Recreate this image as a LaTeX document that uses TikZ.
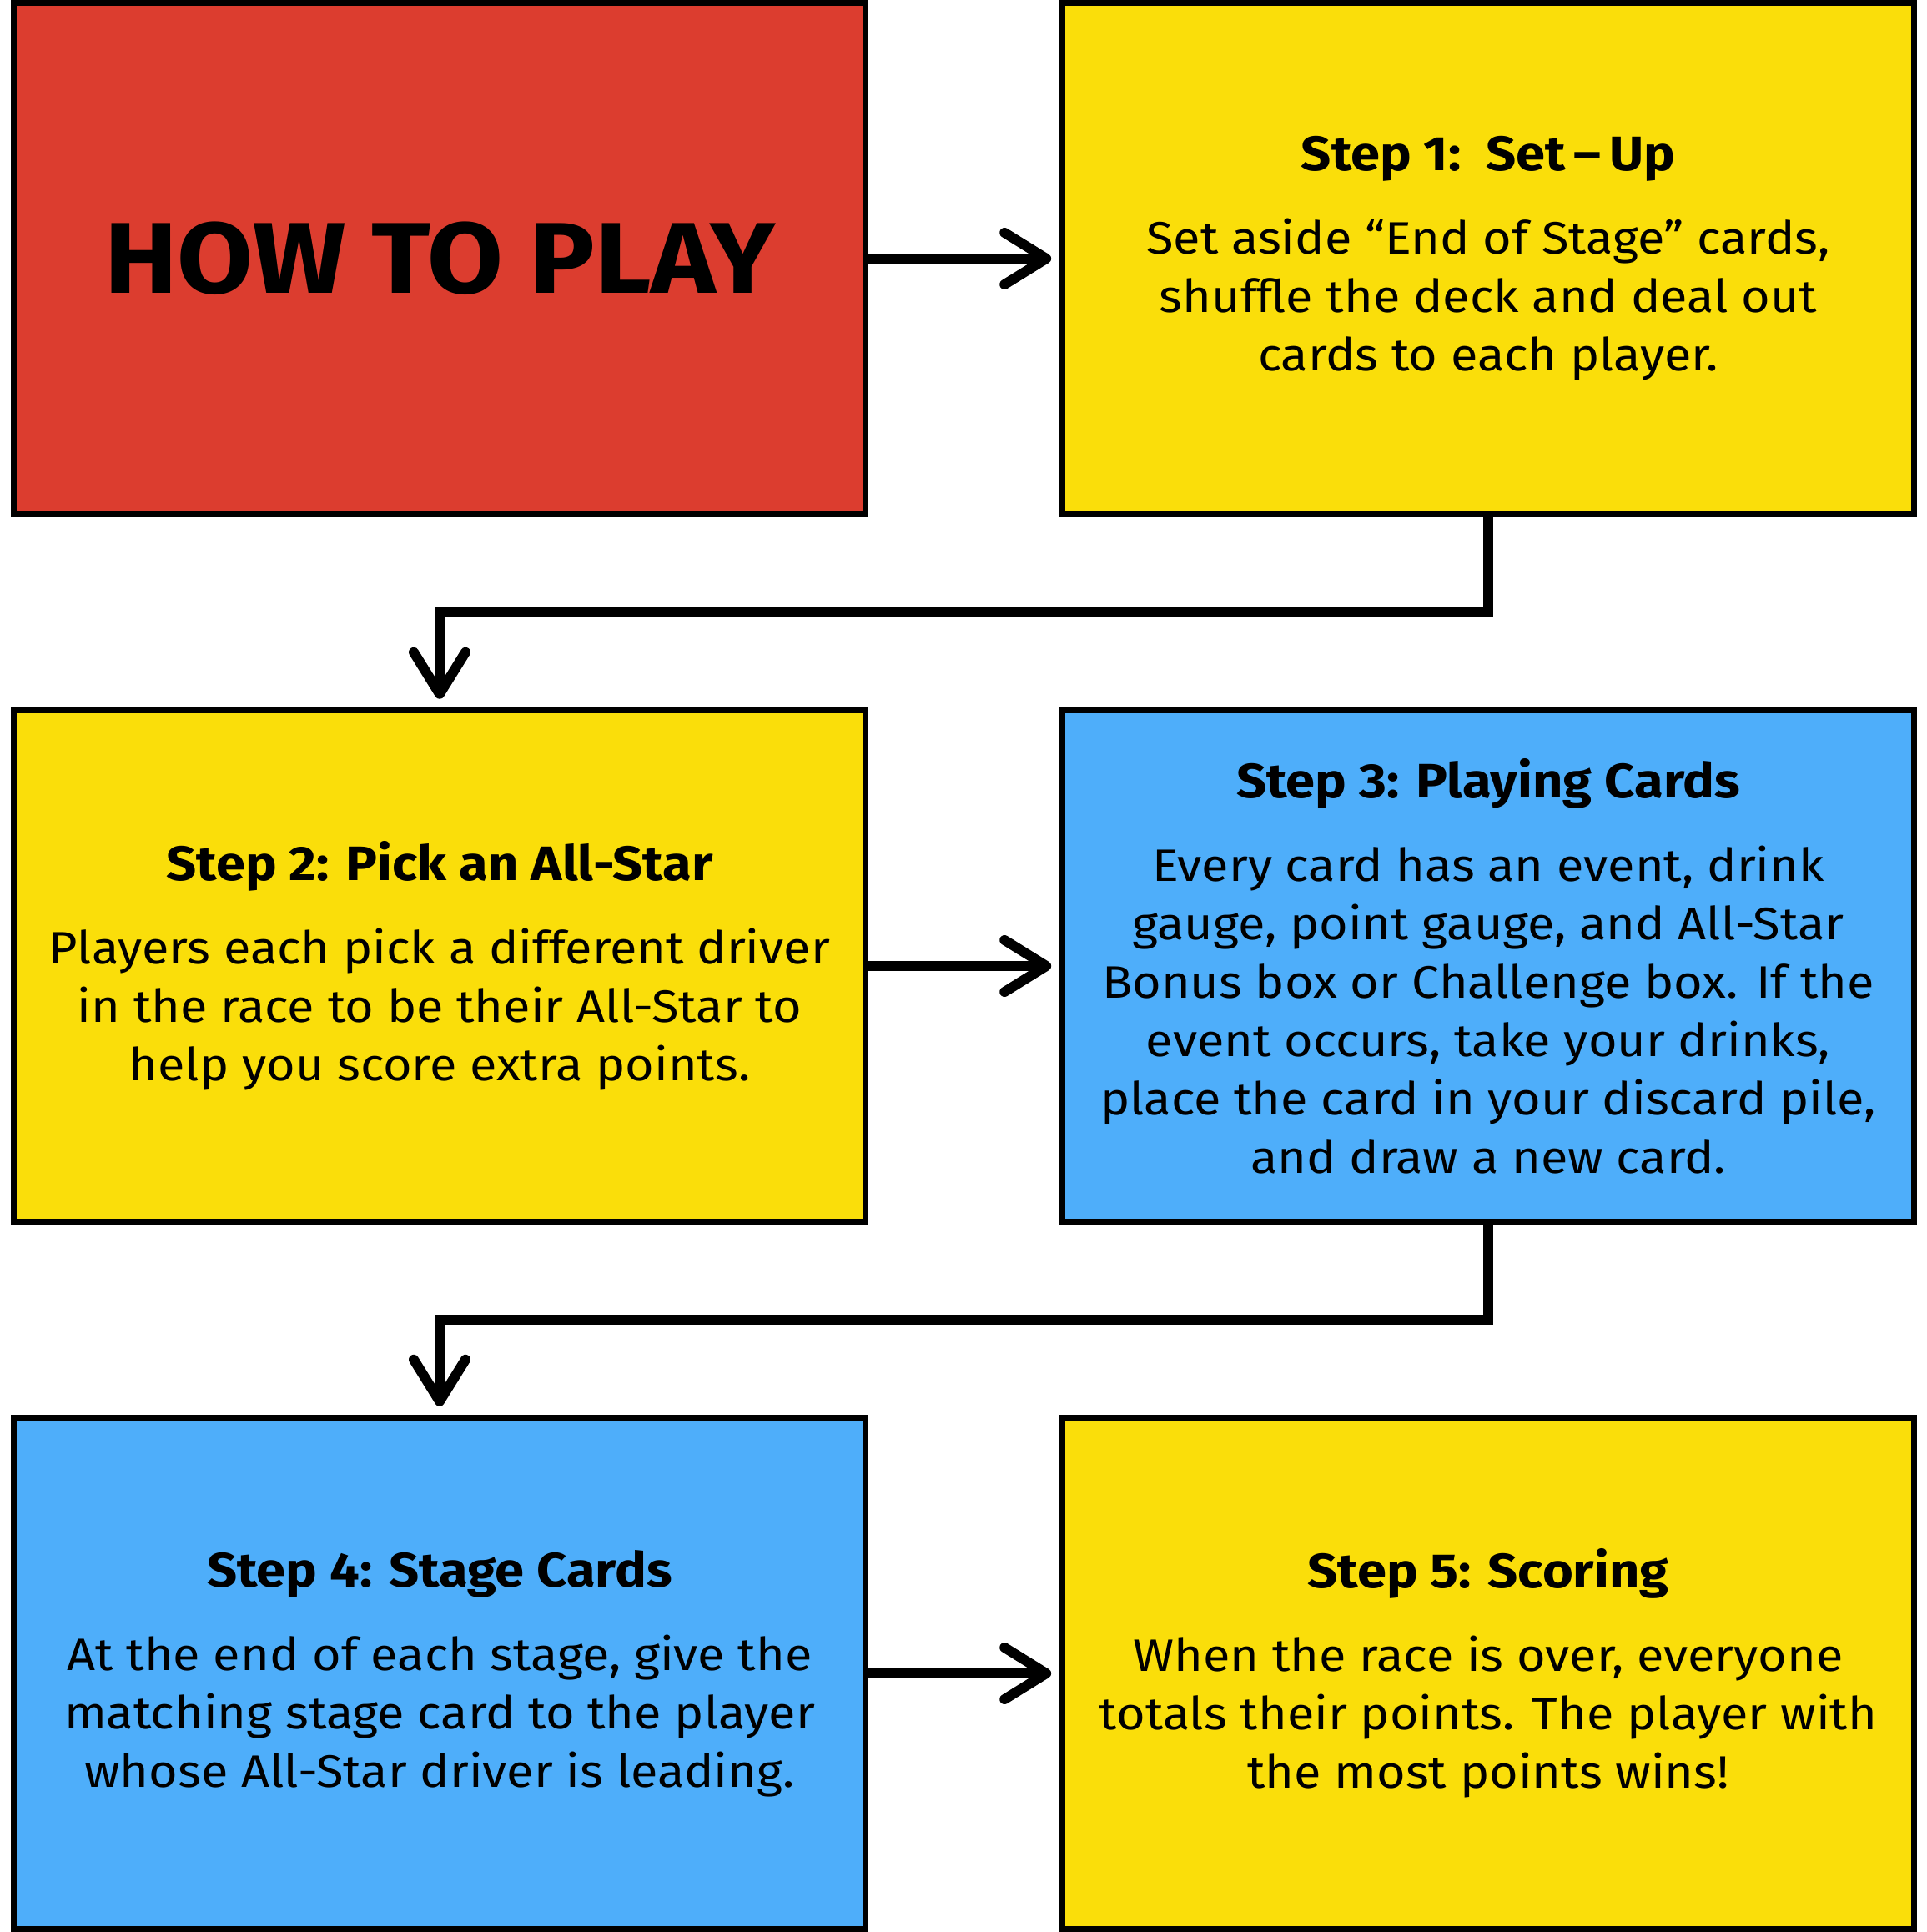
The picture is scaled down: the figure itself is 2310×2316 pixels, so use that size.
\documentclass[tikz,border=0pt]{standalone}
\usepackage{fontspec}
\setmainfont{Fira Sans}[FakeStretch=1.09]
\usetikzlibrary{arrows.meta}

\definecolor{cardred}{RGB}{220,61,47}
\definecolor{cardyellow}{RGB}{250,222,10}
\definecolor{cardblue}{RGB}{78,174,250}

\newcommand{\steptitle}[1]{{\fontsize{16.5}{19.9}\selectfont\bfseries #1}}

\begin{document}
\begin{tikzpicture}[x=0.01cm, y=-0.01cm,
  card/.style={draw=black, line width=2pt, minimum width=10.2cm, minimum height=6.13cm,
    inner sep=0pt, align=center, font=\fontsize{15.5}{19.9}\selectfont},
  flow/.style={line width=3.4pt, -{Straight Barb[length=0.5cm, width=0.62cm, round]},
    shorten >=0.1cm}]

\useasboundingbox (0,0) rectangle (2310,2316);

% Title card
\node[card, fill=cardred, font=\fontsize{34.3}{40}\selectfont\bfseries] (howto) at (527,310) {HOW TO PLAY};

% Step cards
\node[card, fill=cardyellow] (step1) at (1784,310)
  {\steptitle{Step 1:\ \ Set\,–\,Up}\\[8.5pt]
   Set aside “End of Stage” cards,\\ shuffle the deck and deal out\\ cards to each player.};
\node[card, fill=cardyellow] (step2) at (527,1158)
  {\steptitle{Step 2: Pick an All-Star}\\[8.5pt]
   Players each pick a different driver\\ in the race to be their All-Star to\\ help you score extra points.};
\node[card, fill=cardblue] (step3) at (1784,1158)
  {\steptitle{Step 3: Playing Cards}\\[8.5pt]
   Every card has an event, drink\\ gauge, point gauge, and All-Star\\ Bonus box or Challenge box. If the\\
   event occurs, take your drinks,\\ place the card in your discard pile,\\ and draw a new card.};
\node[card, fill=cardblue] (step4) at (527,2006)
  {\steptitle{Step 4: Stage Cards}\\[8.5pt]
   At the end of each stage, give the\\ matching stage card to the player\\ whose All-Star driver is leading.};
\node[card, fill=cardyellow] (step5) at (1784,2006)
  {\steptitle{Step 5: Scoring}\\[8.5pt]
   When the race is over, everyone\\ totals their points. The player with\\ the most points wins!};

% Arrows across
\draw[flow] (howto) -- (step1);
\draw[flow] (step2) -- (step3);
\draw[flow] (step4) -- (step5);

% Arrows back to the left column
\draw[flow] (step1.south) -- ++(0,114) -| (step2.north);
\draw[flow] (step3.south) -- ++(0,114) -| (step4.north);

\end{tikzpicture}
\end{document}
